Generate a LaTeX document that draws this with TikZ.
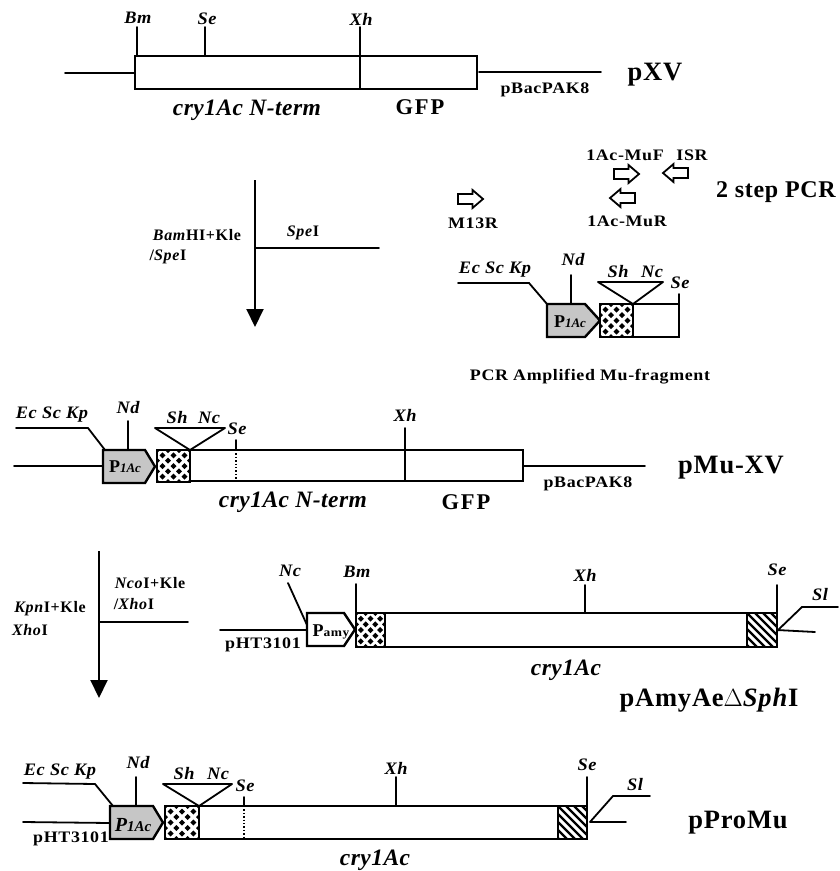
\documentclass[tikz,border=0pt]{standalone}
\usepackage{fontspec}
\setmainfont{Liberation Serif}
\newfontfamily\siteface[LetterSpace=3,FakeStretch=1.05]{Liberation Serif}
\newfontfamily\plainface[LetterSpace=4,FakeStretch=1.12]{Liberation Serif}
\newfontfamily\cryface[LetterSpace=2]{Liberation Serif}
\newfontfamily\titleface[LetterSpace=3]{Liberation Serif}
\newfontfamily\gfpface[LetterSpace=8]{Liberation Serif}
\newfontfamily\stepface[LetterSpace=3]{Liberation Serif}
\newfontfamily\enzface[LetterSpace=4]{Liberation Serif}
\usetikzlibrary{arrows.meta}
\tikzset{
 ln/.style={line width=1.8pt,line cap=round,line join=miter},
 thk/.style={line width=2.4pt,line join=miter},
 lab/.style={inner sep=0pt,font=\siteface\fontsize{17.5}{17}\selectfont\bfseries\itshape},
 plain/.style={inner sep=0pt,font=\plainface\fontsize{16}{16}\selectfont\bfseries},
 cry/.style={inner sep=0pt,font=\cryface\fontsize{23.5}{24}\selectfont\bfseries\itshape},
 gfp/.style={inner sep=0pt,font=\gfpface\fontsize{22.5}{23}\selectfont\bfseries},
 title/.style={inner sep=0pt,font=\titleface\fontsize{26.5}{27}\selectfont\bfseries},
 steplab/.style={inner sep=0pt,font=\stepface\fontsize{24}{25}\selectfont\bfseries},
 enz/.style={inner sep=0pt,font=\enzface\fontsize{16}{17}\selectfont\bfseries},
 prim/.style={line width=1.8pt,fill=white,line join=miter},
 bigarrow/.style={line width=2pt,-{Triangle[length=18pt,width=17pt]}},
 plab/.style={inner sep=0pt,font=\fontsize{18}{18}\selectfont\bfseries},
}
% promoter: name, left, top, bottom, shoulder, tip, fill
\newcommand{\promoter}[7]{%
 \draw[thk,fill=#7] (#2,#3) coordinate (#1tl) -- (#5,#3) -- (#6,{(#3+#4)/2}) coordinate (#1tip) -- (#5,#4) -- (#2,#4) coordinate (#1bl) -- cycle;
 \coordinate (#1ml) at (#2,{(#3+#4)/2});}
% diamond block: left, top, right, bottom
\newcommand{\checkbox}[4]{%
 \begin{scope}
 \clip (#1,#2) rectangle (#3,#4);
 \fill[white] (#1,#2) rectangle (#3,#4);
 \foreach \i in {0,...,3} \foreach \j in {0,...,6} {
   \pgfmathsetmacro{\cx}{#1+(\i+(mod(\j,2)==0?0:0.5))*(#3-#1)/3}
   \pgfmathsetmacro{\cy}{#2+\j*(#4-#2)/6}
   \fill[black] (\cx-3,\cy) -- (\cx,\cy-3) -- (\cx+3,\cy) -- (\cx,\cy+3) -- cycle;
 }
 \end{scope}
 \draw[thk] (#1,#2) rectangle (#3,#4);}
% hatched block: left, top, right, bottom
\newcommand{\hatchbox}[4]{%
 \begin{scope}
 \clip (#1,#2) rectangle (#3,#4);
 \foreach \k in {-40,-32,...,40}
   \draw[line width=2.2pt] ({#1+\k},#2) -- ({#1+\k+40},{#2+40});
 \end{scope}
 \draw[line width=1.8pt] (#1,#2) rectangle (#3,#4);}
% primers: tail x, tip x, y
\newcommand{\primer}[3]{%
 \pgfmathsetmacro{\nk}{#1+(#2-#1)*0.58}
 \draw[prim] (#1,#3-5) -- (\nk,#3-5) -- (\nk,#3-9) -- (#2,#3) -- (\nk,#3+9) -- (\nk,#3+5) -- (#1,#3+5) -- cycle;}
\begin{document}
\begin{tikzpicture}[x=1pt,y=-1pt]
\useasboundingbox (0,0) rectangle (839,871);
\fill[white] (0,0) rectangle (839,871);

%% pXV
\coordinate (a1) at (65,73); \coordinate (a2) at (135,73);
\coordinate (a3) at (479,72); \coordinate (a4) at (601,72);
\draw[ln] (a1) -- (a2) (a3) -- (a4);
\draw[ln] (135,56) rectangle (477,89);
\draw[ln] (137,27) -- (137,56) (205,27) -- (205,56) (360,27) -- (360,89);
\node[lab] (xvBm) at (138,18) {Bm};
\node[lab] (xvSe) at (207,19) {Se};
\node[lab] (xvXh) at (361,19) {Xh};
\node[cry] (xvC) at (247,110) {cry1Ac N-term};
\node[gfp] (xvG) at (420,107) {GFP};
\node[plain] (xvP) at (545,90) {pBacPAK8};
\node[title] (xvT) at (655,75) {pXV};

%% arrow 1
\coordinate (b1) at (255,180); \coordinate (b2) at (255,327); \coordinate (b3) at (255,248); \coordinate (b4) at (379,248);
\draw[bigarrow] (b1) -- (b2);
\draw[ln] (b3) -- (b4);
\node[enz] (e1) at (197,235) {\textit{Bam}HI+Kle};
\node[enz] (e2) at (168,257) {/\textit{Spe}I};
\node[enz] (e3) at (303,233) {\textit{Spe}I};

%% primers
\primer{458}{483}{199}
\primer{614}{639}{174}
\primer{688}{663}{173}
\primer{635}{610}{198}
\node[plain] (p1) at (473,223) {M13R};
\node[plain] (p2) at (625,155) {1Ac-MuF};
\node[plain] (p3) at (692,155) {ISR};
\node[plain] (p4) at (627,221) {1Ac-MuR};
\node[steplab] (p5) at (776,192) {2 step PCR};

%% PCR fragment
\draw[ln] (458,283) -- (529,283) -- (547,304);
\promoter{fr}{547}{304}{337}{585}{600}{gray!45}
\node[plab] (frP) at (570,322) {P\textit{\fontsize{13}{13}\selectfont 1Ac}};
\checkbox{600}{304}{633}{337}
\draw[thk] (633,304) rectangle (679,337);
\draw[ln] (571,275) -- (571,304) (679,294) -- (679,304);
\draw[line width=1.8pt,line join=round] (598,282) -- (663,282) -- (633,304) -- cycle;
\node[lab] (frEc) at (495,270) {Ec Sc Kp};
\node[lab] (frNd) at (573,260) {Nd};
\node[lab] (frSh) at (618,272) {Sh};
\node[lab] (frNc) at (652,272) {Nc};
\node[lab] (frSe) at (680,283) {Se};
\node[plain] (frT) at (590,377) {PCR Amplified Mu-fragment};

%% pMu-XV
\draw[ln] (16,428) -- (88,428) -- (105,450);
\draw[ln] (14,466) -- (103,466);
\draw[ln] (523,466) -- (645,466);
\draw[ln] (190,450) -- (523,450) -- (523,481) -- (190,481);
\promoter{mu}{103}{450}{483}{145}{155}{gray!45}
\node[plab] (muP) at (125,467) {P\textit{\fontsize{13}{13}\selectfont 1Ac}};
\checkbox{157}{450}{190}{482}
\draw[ln] (128,421) -- (128,450) (236,440) -- (236,450) (405,428) -- (405,481);
\draw[line width=1.4pt,dotted] (236,450) -- (236,481);
\draw[line width=1.8pt,line join=round] (155,428) -- (225,428) -- (190,450) -- cycle;
\node[lab] (muEc) at (52,415) {Ec Sc Kp};
\node[lab] (muNd) at (128,408) {Nd};
\node[lab] (muSh) at (177,418) {Sh};
\node[lab] (muNc) at (209,418) {Nc};
\node[lab] (muSe) at (237,429) {Se};
\node[lab] (muXh) at (405,415) {Xh};
\node[cry] (muC) at (293,502) {cry1Ac N-term};
\node[gfp] (muG) at (466,502) {GFP};
\node[plain] (muB) at (588,484) {pBacPAK8};
\node[title] (muT) at (731,468) {pMu-XV};

%% arrow 2
\coordinate (c1) at (99,551); \coordinate (c2) at (99,698); \coordinate (c3) at (99,622); \coordinate (c4) at (188,622);
\draw[bigarrow] (c1) -- (c2);
\draw[ln] (c3) -- (c4);
\node[enz] (f1) at (50,609) {\textit{Kpn}I+Kle};
\node[enz] (f2) at (30,630) {\textit{Xho}I};
\node[enz] (f3) at (150,583) {\textit{Nco}I+Kle};
\node[enz] (f4) at (134,604) {/\textit{Xho}I};

%% pAmyAe
\draw[ln] (220,630) -- (307,630);
\draw[ln] (385,613) -- (747,613) (385,647) -- (747,647);
\promoter{am}{307}{613}{646}{344}{355}{white}
\node[plab] (amP) at (331,632) {P{\plainface\fontsize{12}{12}\selectfont amy}};
\checkbox{356}{613}{385}{647}
\hatchbox{747}{613}{777}{647}
\draw[ln] (288,583) -- (307,625) (356,584) -- (356,613) (585,585) -- (585,613) (777,585) -- (777,613);
\draw[ln] (777,631) -- (802,607) -- (838,607) (777,630) -- (815,632);
\node[lab] (amNc) at (290,571) {Nc};
\node[lab] (amBm) at (357,572) {Bm};
\node[lab] (amXh) at (585,575) {Xh};
\node[lab] (amSe) at (777,570) {Se};
\node[lab] (amSl) at (820,595) {Sl};
\node[plain] (amH) at (263,645) {pHT3101};
\node[cry] (amC) at (566,670) {cry1Ac};
\node[title] (amT) at (709,700) {pAmyAe$\Delta$\textit{Sph}I};

%% pProMu
\draw[ln] (23,783) -- (95,784) -- (113,806);
\draw[ln] (23,822) -- (110,823);
\draw[ln] (199,806) -- (558,806) (199,839) -- (558,839);
\promoter{pr}{110}{806}{839}{153}{163}{gray!45}
\node[plab,font=\fontsize{20}{20}\selectfont\bfseries\itshape] (prP) at (133,825) {P{\fontsize{15}{15}\selectfont 1Ac}};
\checkbox{165}{806}{199}{839}
\hatchbox{558}{806}{587}{839}
\draw[ln] (136,777) -- (136,806) (244,797) -- (244,806) (396,777) -- (396,806) (587,777) -- (587,806);
\draw[line width=1.4pt,dotted] (244,806) -- (244,838);
\draw[ln] (590,822) -- (613,796) -- (650,796) (590,822) -- (626,822);
\draw[line width=1.8pt,line join=round] (163,784) -- (232,784) -- (199,806) -- cycle;
\node[lab] (prEc) at (60,772) {Ec Sc Kp};
\node[lab] (prNd) at (138,763) {Nd};
\node[lab] (prSh) at (184,774) {Sh};
\node[lab] (prNc) at (218,774) {Nc};
\node[lab] (prSe) at (245,786) {Se};
\node[lab] (prXh) at (396,768) {Xh};
\node[lab] (prSe2) at (587,765) {Se};
\node[lab] (prSl) at (635,785) {Sl};
\node[plain] (prH) at (71,839) {pHT3101};
\node[cry] (prC) at (375,860) {cry1Ac};
\node[title] (prT) at (738,823) {pProMu};
\end{tikzpicture}
\end{document}
